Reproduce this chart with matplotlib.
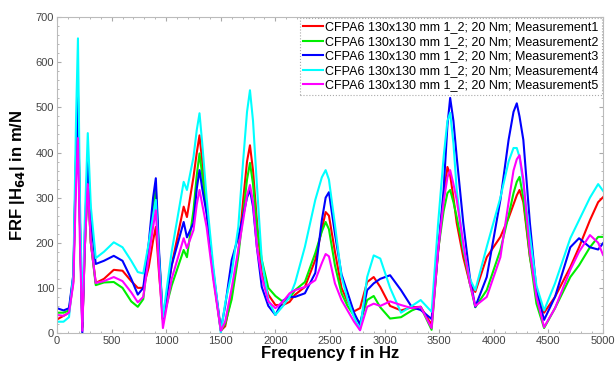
import matplotlib
matplotlib.use("Agg")
import matplotlib.pyplot as plt
from matplotlib.ticker import MultipleLocator

plt.rcParams['font.family'] = ['Liberation Sans', 'DejaVu Sans']

freq = [0, 60, 110, 150, 175, 192, 210, 232, 255, 282,
        310, 355, 430, 520, 600, 680, 740, 790, 840, 880,
        905, 935, 970, 1050, 1160, 1190, 1250, 1280, 1305, 1330,
        1370, 1430, 1500, 1540, 1600, 1660, 1705, 1740, 1767, 1795,
        1830, 1875, 1935, 2000, 2070, 2130, 2180, 2270, 2365, 2425,
        2460, 2490, 2545, 2605, 2660, 2720, 2775, 2840, 2900, 2960,
        3050, 3150, 3250, 3330, 3430, 3490, 3540, 3575, 3600, 3630,
        3660, 3720, 3780, 3830, 3935, 4060, 4135, 4180, 4210, 4235,
        4270, 4330, 4390, 4460, 4560, 4700, 4780, 4880, 4955, 5000]

m1_red = [30, 38, 45, 115, 390, 515, 240, 12, 190, 335,
          200, 111, 120, 140, 138, 115, 100, 100, 146, 205,
          235, 130, 30, 150, 280, 257, 346, 400, 438, 380,
          280, 130, 5, 15, 85, 177, 295, 380, 416, 360,
          250, 133, 85, 62, 62, 69, 85, 102, 162, 230,
          268, 260, 180, 100, 70, 48, 55, 113, 124, 102,
          60, 50, 57, 58, 18, 180, 301, 368, 350, 300,
          244, 168, 110, 91, 168, 213, 255, 285, 305, 317,
          290, 168, 90, 45, 80, 146, 190, 250, 290, 301]

m2_green = [45, 45, 50, 125, 400, 528, 250, 15, 190, 335,
            200, 106, 112, 113, 100, 70, 58, 75, 184, 280,
            321, 170, 30, 105, 184, 168, 272, 350, 398, 350,
            270, 130, 5, 20, 75, 170, 265, 340, 377, 330,
            235, 162, 100, 82, 69, 77, 95, 113, 177, 225,
            246, 230, 150, 88, 60, 38, 22, 73, 82, 57,
            32, 35, 50, 58, 7, 184, 270, 310, 317, 290,
            257, 184, 110, 57, 95, 184, 260, 310, 335, 346,
            300, 170, 65, 11, 55, 124, 150, 190, 213, 213]

m3_blue = [55, 50, 55, 130, 400, 535, 250, 0, 220, 390,
           250, 153, 160, 171, 160, 120, 85, 100, 199, 300,
           343, 180, 30, 150, 246, 212, 244, 320, 361, 320,
           265, 140, 8, 60, 162, 213, 260, 300, 317, 280,
           191, 102, 60, 40, 72, 80, 80, 88, 133, 250,
           300, 312, 220, 130, 90, 45, 18, 95, 110, 120,
           128, 95, 57, 51, 31, 184, 317, 460, 521, 470,
           390, 244, 124, 58, 124, 295, 428, 490, 509, 480,
           428, 244, 95, 29, 80, 190, 210, 190, 185, 199]

m4_cyan = [25, 25, 35, 130, 480, 653, 300, 25, 250, 443,
           280, 166, 180, 201, 190, 160, 135, 132, 199, 260,
           295, 160, 35, 180, 335, 317, 390, 450, 487, 420,
           300, 150, 0, 66, 133, 235, 383, 490, 538, 470,
           330, 162, 73, 40, 60, 80, 111, 191, 295, 345,
           361, 340, 240, 125, 75, 35, 7, 124, 172, 165,
           100, 45, 60, 73, 47, 244, 390, 470, 488, 420,
           317, 191, 120, 95, 191, 300, 380, 410, 410, 390,
           330, 215, 105, 50, 110, 210, 250, 300, 330, 315]

m5_magenta = [40, 38, 45, 110, 330, 432, 200, 5, 190, 330,
              200, 111, 115, 124, 115, 90, 68, 80, 168, 235,
              272, 140, 11, 120, 210, 188, 228, 285, 317, 285,
              235, 120, 5, 25, 100, 184, 250, 305, 328, 290,
              191, 124, 70, 55, 70, 88, 95, 102, 117, 155,
              175, 170, 110, 73, 50, 25, 6, 58, 65, 60,
              70, 62, 55, 58, 11, 184, 290, 345, 361, 330,
              295, 199, 110, 60, 80, 168, 290, 360, 385, 394,
              340, 180, 80, 13, 55, 140, 180, 217, 200, 173]

labels = ["CFPA6 130x130 mm 1_2; 20 Nm; Measurement%d" % i for i in range(1, 6)]
series = [m1_red, m2_green, m3_blue, m4_cyan, m5_magenta]
colors = ['#ff0000', '#00ee00', '#0000ff', '#00ffff', '#ff00ff']

fig = plt.figure(figsize=(6.16, 3.65), dpi=100)
ax = fig.add_axes([0.0925, 0.0877, 0.8865, 0.8653])

for vals, c, lab in zip(series, colors, labels):
    ax.plot(freq, vals, color=c, lw=1.5, label=lab)

ax.set_xlim(0, 5000)
ax.set_ylim(0, 700)
ax.xaxis.set_major_locator(MultipleLocator(500))
ax.yaxis.set_major_locator(MultipleLocator(100))
ax.xaxis.set_minor_locator(MultipleLocator(100))
ax.yaxis.set_minor_locator(MultipleLocator(20))
ax.tick_params(which='both', direction='in', color='#aaaaaa', labelsize=8, labelcolor='#444444',
               top=True, right=True)
ax.tick_params(which='major', length=3, pad=2)
ax.tick_params(which='minor', length=1.5)
for s in ax.spines.values():
    s.set_color('#bbbbbb')
    s.set_linewidth(0.8)

ax.set_xlabel('Frequency f in Hz', fontsize=12, fontweight='bold', labelpad=0)
ax.set_ylabel(r'FRF |H$_{\mathbf{64}}$| in m/N', fontsize=12, fontweight='bold', labelpad=6)

leg = ax.legend(loc='upper right', fontsize=9, handlelength=1.6, handletextpad=0.2,
                labelspacing=0.2, borderpad=0.25, borderaxespad=0.1, fancybox=False,
                framealpha=1, edgecolor='#aaaaaa')
leg.get_frame().set_linewidth(0.8)
leg.get_frame().set_linestyle(':')

fig.savefig('out.png', dpi=100)
